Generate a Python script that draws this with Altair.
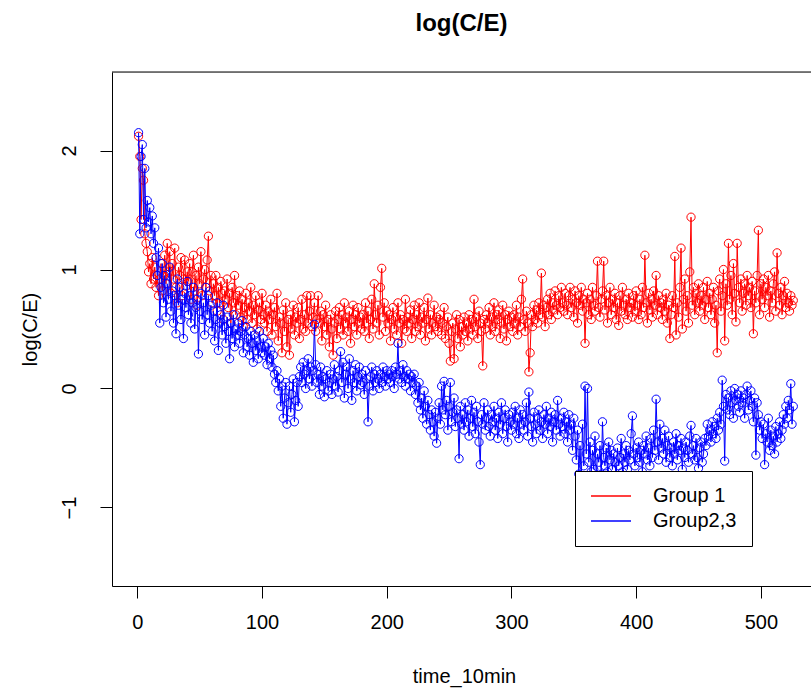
import altair as alt
import pandas as pd

# ---- data (log(C/E) per 10-min step) ----
group1 = [
    2.12, 1.95, 1.42, 1.85, 1.75, 1.30, 1.22, 1.15, 0.98, 1.05, 0.88, 1.10, 0.92, 1.02, 0.85, 0.95, 0.78, 0.92, 1.05, 0.82,
    0.95, 1.12, 0.88, 1.22, 0.98, 1.15, 0.80, 1.05, 0.92, 1.18, 0.85, 0.72, 1.02, 0.95, 1.10, 0.78, 0.92, 1.08, 0.86, 0.98,
    0.90, 1.05, 0.75, 0.98, 1.12, 0.82, 0.95, 0.70, 1.02, 0.88, 1.15, 0.78, 0.92, 1.00, 0.85, 1.08, 1.28, 0.82, 0.95, 0.72,
    0.88, 0.78, 0.95, 0.65, 0.85, 0.72, 0.90, 0.80, 0.58, 0.82, 0.75, 0.92, 0.68, 0.80, 0.55, 0.85, 0.72, 0.95, 0.62, 0.78,
    0.70, 0.82, 0.60, 0.75, 0.52, 0.68, 0.80, 0.58, 0.72, 0.65, 0.85, 0.55, 0.70, 0.62, 0.78, 0.50, 0.66, 0.72, 0.58, 0.80,
    0.62, 0.55, 0.70, 0.48, 0.65, 0.58, 0.75, 0.45, 0.62, 0.68, 0.52, 0.80, 0.40, 0.60, 0.55, 0.30, 0.66, 0.48, 0.72, 0.35,
    0.58, 0.28, 0.62, 0.50, 0.70, 0.45, 0.60, 0.55, 0.68, 0.42, 0.58, 0.75, 0.50, 0.62, 0.48, 0.78, 0.55, 0.65, 0.78, 0.52,
    0.60, 0.72, 0.48, 0.58, 0.78, 0.55, 0.65, 0.40, 0.62, 0.52, 0.70, 0.45, 0.58, 0.35, 0.62, 0.50, 0.28, 0.55, 0.65, 0.42,
    0.58, 0.68, 0.50, 0.62, 0.45, 0.72, 0.55, 0.60, 0.48, 0.65, 0.38, 0.58, 0.70, 0.52, 0.62, 0.45, 0.68, 0.55, 0.60, 0.50,
    0.62, 0.48, 0.72, 0.55, 0.65, 0.42, 0.58, 0.75, 0.50, 0.88, 0.62, 0.55, 0.70, 0.45, 0.85, 1.01, 0.60, 0.72, 0.48, 0.65,
    0.55, 0.62, 0.40, 0.58, 0.68, 0.50, 0.60, 0.45, 0.72, 0.55, 0.62, 0.38, 0.58, 0.50, 0.75, 0.48, 0.60, 0.55, 0.66, 0.42,
    0.58, 0.70, 0.48, 0.62, 0.52, 0.72, 0.45, 0.60, 0.55, 0.68, 0.40, 0.58, 0.76, 0.50, 0.62, 0.45, 0.55, 0.70, 0.52, 0.60,
    0.48, 0.58, 0.62, 0.45, 0.55, 0.68, 0.42, 0.52, 0.60, 0.38, 0.23, 0.48, 0.55, 0.25, 0.50, 0.62, 0.42, 0.58, 0.35, 0.52,
    0.45, 0.60, 0.48, 0.55, 0.40, 0.62, 0.50, 0.58, 0.45, 0.75, 0.52, 0.60, 0.42, 0.65, 0.55, 0.48, 0.19, 0.58, 0.50, 0.62,
    0.55, 0.68, 0.45, 0.60, 0.52, 0.72, 0.48, 0.62, 0.58, 0.66, 0.42, 0.55, 0.70, 0.50, 0.62, 0.40, 0.58, 0.65, 0.52, 0.60,
    0.48, 0.62, 0.55, 0.70, 0.45, 0.60, 0.52, 0.75, 0.92, 0.58, 0.48, 0.65, 0.55, 0.14, 0.30, 0.62, 0.52, 0.70, 0.58, 0.66,
    0.55, 0.72, 0.62, 0.97, 0.60, 0.70, 0.52, 0.68, 0.75, 0.62, 0.80, 0.58, 0.72, 0.66, 0.82, 0.70, 0.62, 0.78, 0.68, 0.85,
    0.72, 0.65, 0.80, 0.70, 0.62, 0.78, 0.85, 0.68, 0.75, 0.60, 0.82, 0.72, 0.55, 0.78, 0.70, 0.85, 0.65, 0.75, 0.38, 0.72,
    0.80, 0.62, 0.75, 0.58, 0.85, 0.70, 0.65, 0.78, 1.07, 0.68, 0.60, 0.75, 0.82, 1.07, 0.66, 0.78, 0.55, 0.72, 0.85, 0.62,
    0.75, 0.68, 0.80, 0.58, 0.72, 0.53, 0.78, 0.65, 0.85, 0.70, 0.62, 0.75, 0.58, 0.80, 0.68, 0.72, 0.60, 0.78, 0.65, 0.82,
    0.70, 0.58, 0.75, 0.62, 0.85, 0.68, 1.12, 0.72, 0.55, 0.80, 0.66, 0.75, 0.60, 0.82, 0.70, 0.95, 0.62, 0.78, 0.68, 0.72,
    0.58, 0.75, 0.65, 0.80, 0.55, 0.70, 0.42, 0.62, 0.78, 0.68, 1.11, 0.45, 0.72, 0.60, 0.85, 1.18, 0.50, 0.75, 0.92, 0.65,
    0.78, 0.55, 0.98, 1.44, 0.70, 0.85, 0.62, 0.80, 0.72, 0.88, 0.65, 0.78, 0.70, 0.85, 0.58, 0.75, 0.90, 0.68, 0.80, 0.62,
    0.75, 0.85, 0.55, 0.70, 0.30, 0.82, 0.92, 0.65, 0.78, 1.00, 0.40, 0.88, 0.70, 1.22, 0.75, 0.95, 0.62, 1.05, 0.80, 0.56,
    1.22, 0.85, 0.72, 0.92, 0.65, 0.80, 0.88, 0.70, 0.95, 0.78, 0.85, 0.68, 0.90, 0.46, 0.82, 0.72, 0.95, 1.33, 0.62, 0.88,
    0.75, 0.92, 0.68, 0.85, 0.78, 0.95, 0.60, 0.82, 0.72, 0.88, 0.98, 0.65, 1.14, 0.80, 0.70, 0.85, 0.62, 0.78, 0.90, 0.68,
    0.80, 0.72, 0.65, 0.78, 0.70, 0.74,
]

group23 = [
    2.15, 1.30, 1.95, 2.05, 1.42, 1.85, 1.35, 1.58, 1.40, 1.52, 1.30, 1.45, 1.22, 1.35, 1.10, 0.95, 1.18, 0.55, 0.85, 1.05,
    0.72, 0.95, 0.60, 0.88, 0.75, 1.02, 0.65, 0.82, 0.55, 0.78, 0.46, 0.92, 0.70, 0.85, 0.58, 0.75, 0.42, 0.80, 0.68, 0.90,
    0.62, 0.78, 0.55, 0.72, 0.85, 0.50, 0.68, 0.75, 0.29, 0.65, 0.80, 0.58, 0.72, 0.45, 0.85, 0.62, 0.78, 0.55, 0.70, 0.48,
    0.65, 0.40, 0.58, 0.72, 0.32, 0.55, 0.62, 0.45, 0.70, 0.52, 0.38, 0.60, 0.48, 0.25, 0.55, 0.42, 0.62, 0.35, 0.50, 0.45,
    0.55, 0.38, 0.48, 0.57, 0.30, 0.45, 0.52, 0.35, 0.42, 0.28, 0.48, 0.38, 0.22, 0.45, 0.32, 0.40, 0.25, 0.48, 0.35, 0.30,
    0.42, 0.28, 0.35, 0.20, 0.38, 0.25, 0.32, 0.18, 0.28, 0.12, 0.05, 0.15, -0.02, 0.08, -0.15, 0.02, -0.25, -0.08, 0.05, -0.30,
    -0.12, 0.02, -0.20, -0.05, 0.08, -0.28, -0.10, 0.05, -0.15, 0.10, 0.18, 0.05, 0.22, 0.12, 0.00, 0.15, 0.25, 0.08, 0.18, 0.02,
    0.15, 0.54, 0.20, 0.05, 0.12, -0.05, 0.18, 0.02, 0.10, -0.07, 0.08, 0.15, -0.02, 0.05, 0.12, -0.05, 0.08, 0.20, 0.02, 0.10,
    -0.03, 0.15, 0.31, 0.05, 0.22, -0.08, 0.12, 0.18, 0.00, 0.25, 0.08, -0.10, 0.15, 0.05, 0.20, -0.02, 0.10, 0.18, 0.03, 0.12,
    0.05, -0.05, 0.15, 0.08, -0.28, 0.02, 0.10, 0.18, -0.02, 0.12, 0.05, 0.15, 0.08, 0.00, 0.12, 0.05, 0.18, 0.10, 0.02, 0.15,
    0.08, 0.12, 0.05, 0.15, 0.10, 0.00, 0.18, 0.12, 0.38, 0.08, 0.15, 0.05, 0.20, 0.10, 0.02, 0.15, 0.08, 0.12, -0.02, 0.10,
    0.05, 0.12, -0.05, 0.02, -0.12, 0.05, -0.18, -0.08, -0.25, -0.02, -0.15, -0.30, -0.10, -0.22, -0.35, -0.18, -0.28, -0.40, -0.20, -0.46,
    -0.25, -0.12, -0.30, 0.02, -0.18, 0.06, -0.22, -0.10, -0.35, -0.15, 0.05, -0.28, -0.20, -0.08, -0.32, -0.18, -0.25, -0.59, -0.15, -0.30,
    -0.22, -0.35, -0.12, -0.28, -0.18, -0.40, -0.25, -0.10, -0.32, -0.20, -0.38, -0.15, -0.28, -0.45, -0.64, -0.22, -0.30, -0.12, -0.35, -0.25,
    -0.18, -0.32, -0.40, -0.22, -0.28, -0.15, -0.35, -0.25, -0.42, -0.20, -0.30, -0.12, -0.38, -0.25, -0.18, -0.32, -0.45, -0.22, -0.28, -0.35,
    -0.20, -0.30, -0.15, -0.38, -0.25, -0.42, -0.18, -0.30, -0.22, -0.35, -0.28, -0.12, -0.40, -0.03, -0.25, -0.32, -0.45, -0.20, -0.30, -0.38,
    -0.25, -0.18, -0.35, -0.28, -0.42, -0.22, -0.30, -0.15, -0.38, -0.25, -0.32, -0.20, -0.45, -0.28, -0.22, -0.35, -0.10, -0.30, -0.40, -0.25,
    -0.32, -0.20, -0.38, -0.28, -0.45, -0.22, -0.35, -0.30, -0.52, -0.25, -0.40, -0.60, -0.35, -0.72, -0.48, -0.78, -0.30, -0.65, 0.02, -0.55,
    0.00, -0.62, -0.45, -0.70, -0.52, -0.68, -0.40, -0.75, -0.55, -0.62, -0.48, -0.72, -0.28, -0.58, -0.65, -0.50, -0.70, -0.45, -0.60, -0.52,
    -0.68, -0.55, -0.62, -0.75, -0.50, -0.65, -0.58, -0.42, -0.70, -0.55, -0.62, -0.48, -0.68, -0.52, -0.60, -0.38, -0.23, -0.55, -0.65, -0.50,
    -0.58, -0.45, -0.62, -0.52, -0.70, -0.48, -0.55, -0.40, -0.60, -0.50, -0.65, -0.42, -0.58, -0.35, -0.52, -0.09, -0.45, -0.60, -0.30, -0.50,
    -0.42, -0.55, -0.35, -0.62, -0.48, -0.40, -0.58, -0.50, -0.65, -0.45, -0.55, -0.38, -0.60, -0.48, -0.52, -0.42, -0.68, -0.50, -0.58, -0.45,
    -0.52, -0.62, -0.40, -0.31, -0.55, -0.48, -0.60, -0.42, -0.58, -0.67, -0.50, -0.45, -0.62, -0.55, -0.42, -0.48, -0.30, -0.40, -0.35, -0.45,
    -0.28, -0.38, -0.32, -0.42, -0.25, -0.35, -0.20, -0.30, 0.07, -0.15, -0.61, -0.05, -0.18, -0.08, -0.22, -0.02, -0.12, -0.25, 0.00, -0.10,
    -0.05, -0.15, -0.20, -0.02, -0.12, -0.08, -0.25, -0.05, 0.02, -0.18, -0.10, -0.02, -0.15, -0.28, -0.08, -0.56, -0.12, -0.22, -0.35, -0.28,
    -0.42, -0.30, -0.64, -0.38, -0.45, -0.25, -0.52, -0.35, -0.48, -0.40, -0.55, -0.32, -0.45, -0.38, -0.28, -0.42, -0.35, -0.22, -0.30, -0.15,
    -0.25, -0.10, -0.18, 0.04, -0.30, -0.15,
]

series_names = ["Group 1", "Group2,3"]
series_colors = ["#ff0000", "#0000ff"]
x_ticks = [0, 100, 200, 300, 400, 500]
y_ticks = [-1, 0, 1, 2]

rows = []
for name, vals in zip(series_names, [group1, group23]):
    for i, v in enumerate(vals):
        rows.append({"time_10min": i + 1, "value": v, "group": name})
df = pd.DataFrame(rows)

FONT = "Liberation Sans"
W, H = 699, 514

color = alt.Color(
    "group:N",
    scale=alt.Scale(domain=series_names, range=series_colors),
    legend=alt.Legend(
        title=None,
        orient="none",
        legendX=463,
        legendY=399,
        symbolType="stroke",
        symbolSize=1600,
        symbolStrokeWidth=1.3,
        clipHeight=20,
        rowPadding=5,
        padding=15,
        labelOffset=21,
        labelFont=FONT,
        labelFontSize=20,
        labelColor="#000",
        strokeColor="#000",
        fillColor="#fff",
        cornerRadius=0,
    ),
)

xenc = alt.X(
    "time_10min:Q",
    scale=alt.Scale(domain=[-20.3, 540.2], nice=False, zero=False),
    axis=alt.Axis(
        values=x_ticks, title="time_10min", grid=False,
        domainColor="#000", tickColor="#000", tickSize=12,
        labelFont=FONT, labelFontSize=20, labelColor="#000", labelPadding=14,
        titleFont=FONT, titleFontSize=20, titleFontWeight="normal", titleColor="#000",
        titleX=352, titleY=90, titleBaseline="middle", titleAlign="center",
    ),
)
yenc = alt.Y(
    "value:Q",
    scale=alt.Scale(domain=[-1.66, 2.66], nice=False, zero=False),
    axis=alt.Axis(
        values=y_ticks, title="log(C/E)", grid=False,
        domainColor="#000", tickColor="#000", tickSize=12,
        labelFont=FONT, labelFontSize=20, labelColor="#000",
        labelAngle=270, labelAlign="center", labelBaseline="alphabetic", labelPadding=25,
        titleFont=FONT, titleFontSize=20, titleFontWeight="normal", titleColor="#000",
        titleAngle=270, titleX=-82, titleY=257, titleBaseline="middle", titleAlign="center",
    ),
)

layers = []
for name in series_names:
    sub = alt.Chart(df).transform_filter(alt.datum.group == name)
    layers.append(sub.mark_line(strokeWidth=1).encode(x=xenc, y=yenc, color=color))
    layers.append(
        sub.mark_point(shape="circle", filled=False, size=68, strokeWidth=1, opacity=1).encode(
            x=xenc, y=yenc, color=color
        )
    )

top_border = alt.Chart(alt.Data(values=[{}])).mark_rule(color="#000", strokeWidth=1).encode(
    x=alt.value(0), x2=alt.value(W), y=alt.value(0)
)

chart = alt.layer(*layers, top_border).properties(
    width=W,
    height=H,
    autosize=alt.AutoSizeParams(type="none"),
    padding={"left": 112, "top": 72, "right": 0, "bottom": 110},
    title=alt.TitleParams(
        text="log(C/E)", font=FONT, fontSize=24, fontWeight="bold", color="#000",
        anchor="middle", baseline="alphabetic", offset=17,
    ),
).configure_view(stroke=None).configure(background="white")

chart.save("out.html", embed_options={"renderer": "svg", "actions": False})
